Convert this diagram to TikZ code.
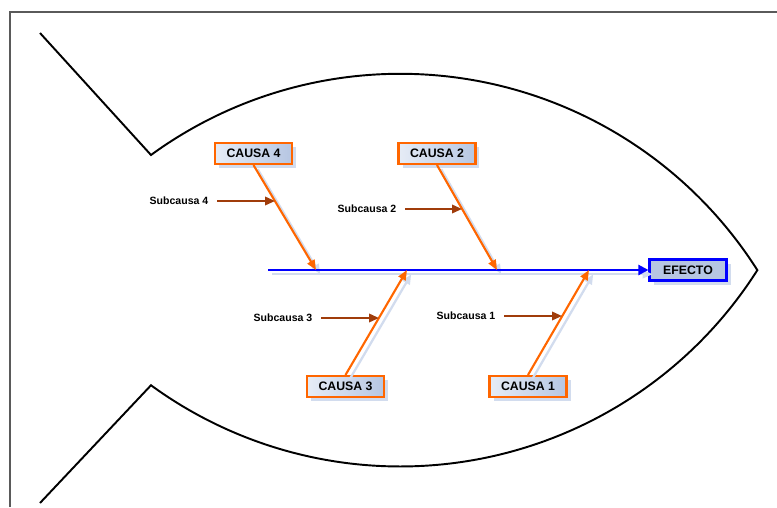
\documentclass[tikz,border=0pt]{standalone}
\usepackage{fontspec}
\setmainfont{Liberation Sans}
\usepackage{tikz}
\usetikzlibrary{arrows.meta,shadows}

\definecolor{naranja}{RGB}{255,102,0}
\definecolor{cafe}{RGB}{160,60,10}
\definecolor{azulcaja}{RGB}{182,198,226}
\definecolor{azulclaro}{RGB}{230,236,246}
\definecolor{sombra}{RGB}{210,220,238}
\definecolor{marco}{RGB}{90,90,90}

\tikzset{
  causa/.style={draw=naranja, line width=1.2pt, left color=azulclaro, right color=azulcaja,
    minimum width=1.54cm, minimum height=0.42cm, inner sep=1pt,
    font=\fontsize{7}{8}\selectfont\bfseries,
    drop shadow={shadow xshift=0.08cm, shadow yshift=-0.08cm, fill=sombra, opacity=1}},
  efecto/.style={causa, draw=blue, left color=azulcaja, right color=azulcaja},
  subcausa/.style={font=\fontsize{6}{7}\selectfont\bfseries, inner sep=4pt},
  punta/.style={-{Triangle[length=0.2cm, width=0.16cm]}},
  sombrita/.style={draw=sombra, line width=1.3pt, punta,
    transform canvas={xshift=2.4pt, yshift=-2.4pt}},
  flecha/.style={draw=naranja, line width=1.2pt, punta},
  subflecha/.style={draw=cafe, line width=1.1pt, shorten <=1pt,
    -{Triangle[length=0.2cm, width=0.17cm]}},
  espina/.style={draw=blue, line width=1.2pt,
    -{Triangle[length=0.2cm, width=0.2cm]}}
}

\begin{document}
\begin{tikzpicture}[x=0.02cm, y=-0.02cm]
  \useasboundingbox (0,0) rectangle (777,507);

  %marco
  \draw[marco, line width=0.6pt] (10,507) -- (10,12) -- (777,12);

  %pescado
  \draw[line width=1.1pt, line join=miter] (40,33) -- (151,155)
    arc[start angle=-126.1, end angle=-32.4, radius=423]
    arc[start angle=32.4, end angle=126.1, radius=423] -- (40,503);

  %cajas
  \node[causa] (c4) at (253.5,153.5) {CAUSA 4};
  \node[causa] (c2) at (437,153.5) {CAUSA 2};
  \node[causa] (c3) at (345.5,386.5) {CAUSA 3};
  \node[causa] (c1) at (528,386.5) {CAUSA 1};
  \node[efecto] (ef) at (688,270) {EFECTO};

  %puntos sobre la espina
  \coordinate (cola) at (268,270);
  \coordinate (j4) at (316,270);
  \coordinate (j2) at (497,270);
  \coordinate (j3) at (407,270);
  \coordinate (j1) at (589,270);

  %sombras
  \draw[sombrita] (cola) -- (ef);
  \foreach \a/\b in {c4.south/j4, c2.south/j2, c3.north/j3, c1.north/j1}
    \draw[sombrita] (\a) -- (\b);

  %espina
  \draw[espina] (cola) -- (ef);

  %causas
  \draw[flecha] (c4.south) -- (j4);
  \draw[flecha] (c2.south) -- (j2);
  \draw[flecha] (c3.north) -- (j3);
  \draw[flecha] (c1.north) -- (j1);

  %subcausas
  \node[subcausa] (s4) at (179,201) {Subcausa 4};
  \node[subcausa] (s2) at (367,209) {Subcausa 2};
  \node[subcausa] (s3) at (283,318) {Subcausa 3};
  \node[subcausa] (s1) at (466,316) {Subcausa 1};
  \coordinate (e4) at (275,201);
  \coordinate (e2) at (462,209);
  \coordinate (e3) at (379,318);
  \coordinate (e1) at (562,316);
  \draw[subflecha] (s4) -- (e4);
  \draw[subflecha] (s2) -- (e2);
  \draw[subflecha] (s3) -- (e3);
  \draw[subflecha] (s1) -- (e1);
\end{tikzpicture}
\end{document}
